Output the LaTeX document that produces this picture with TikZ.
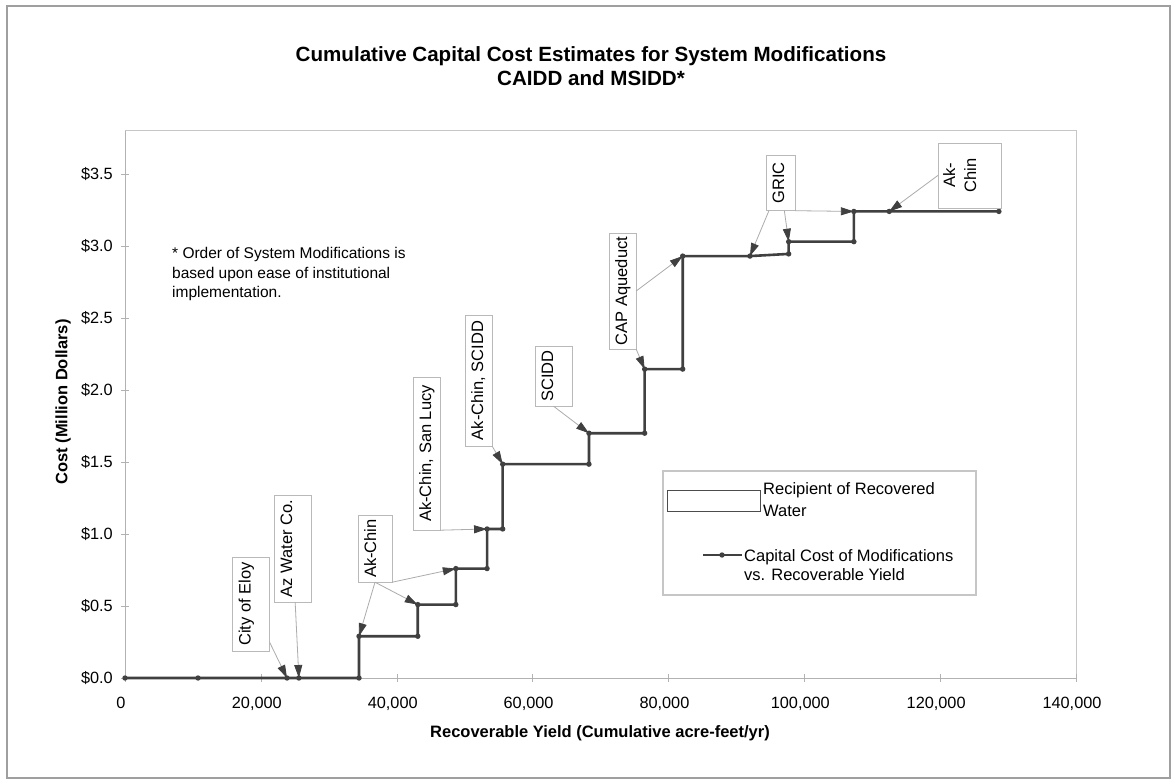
\documentclass[tikz,border=0pt]{standalone}
\usepackage{fontspec}
\setmainfont{Liberation Sans}
\usetikzlibrary{arrows.meta, positioning}
\tikzset{
  callout/.style={
    draw=gray!55,
    fill=white,
    rectangle,
    rotate=90,
    inner sep=0pt,
    text height=18pt,
    align=center,
    font=\fontsize{16.5}{18}\selectfont,
  },
  pointer/.style={
    -{Triangle[length=13pt,width=8pt,color=black!75]},
    gray!65,
    line width=0.8pt
  },
  cost/.style={
    black!75,
    line width=2.6pt,
    line join=round
  },
  ticklabel/.style={
    font=\fontsize{16.3}{18}\selectfont,
    inner sep=0pt
  },
  axistitle/.style={
    font=\fontsize{16.5}{19}\selectfont\bfseries,
    inner sep=0pt
  },
  legendtext/.style={
    font=\fontsize{16.5}{22}\selectfont,
    align=left,
    inner sep=0pt
  }
}

\begin{document}
\begin{tikzpicture}[x=1pt, y=-1pt]
  \useasboundingbox (0,0) rectangle (1172,781);
  \fill[white] (0,0) rectangle (1172,781);
  % Frame
  \draw[gray!75, line width=1.5pt] (7,6) rectangle (1170,778);

  % Title
  \node[font=\fontsize{20.6}{24.5}\selectfont\bfseries, align=center] (title) at (591,66)
    {Cumulative Capital Cost Estimates for System Modifications\\CAIDD and MSIDD*};

  % Plot area
  \draw[gray!45, line width=1pt] (125,131) -- (1076,131) -- (1076,678);
  \draw[gray!60, line width=1pt] (125,131) -- (125,678) -- (1076,678);

  % Ticks
  \foreach \lab [count=\k from 0] in {0.0,0.5,1.0,1.5,2.0,2.5,3.0,3.5} {
    \draw[gray!60] (121,{678-72*\k}) -- (129,{678-72*\k});
    \node[ticklabel, anchor=base east] (ylab\k) at (113,{683.7-72*\k}) {\$\lab};
  }
  \foreach \lab [count=\k from 0] in {0,{20,000},{40,000},{60,000},{80,000},{100,000},{120,000},{140,000}} {
    \draw[gray!60] ({125+135.857*\k},674) -- ({125+135.857*\k},682);
    \node[ticklabel, anchor=base] (xlab\k) at ({121+135.857*\k},708) {\lab};
  }

  % Axis titles
  \node[axistitle, rotate=90] (ytitle) at (63,402) {Cost (Million Dollars)};
  \node[axistitle] (xtitle) at (600,733) {Recoverable Yield (Cumulative acre-feet/yr)};

  % Note
  \node[font=\fontsize{15.5}{19.5}\selectfont, align=left, anchor=north west, inner sep=0pt] (note) at (172,247.5)
    {* Order of System Modifications is\\based upon ease of institutional\\implementation.};

  % Data points
  \begin{scope}[shift={(125,678)}, x=6.7929pt, y=144pt]
    \foreach \dx/\dy [count=\i] in {0/0, 10.75/0, 23.85/0, 25.6/0, 34.45/0, 34.45/0.29, 43.1/0.29,
        43.1/0.51, 48.7/0.51, 48.7/0.76, 53.3/0.76, 53.3/1.035, 55.6/1.035, 55.6/1.485, 68.3/1.485,
        68.3/1.70, 76.5/1.70, 76.5/2.145, 82.1/2.145, 82.1/2.93, 92.0/2.93, 97.7/2.945, 97.7/3.03,
        107.3/3.03, 107.3/3.24, 112.5/3.24, 128.65/3.24}
      \coordinate (d\i) at (\dx,\dy);
  \end{scope}
  \draw[cost] (d1) \foreach \i in {2,...,27} { -- (d\i) };
  \foreach \i in {1,...,27} \fill[black!75] (d\i) circle (2.7pt);

  % Callouts
  \node[callout, minimum width=94pt, text depth=19pt] (eloy) at (251,604) {City of Eloy};
  \node[callout, minimum width=107pt, text depth=19pt] (azwater) at (292.5,548.5) {Az Water Co.};
  \node[callout, minimum width=67pt, text depth=16pt] (akchinA) at (375,548.5) {Ak-Chin};
  \node[callout, minimum width=153pt, text depth=9pt] (sanlucy) at (426.5,453.5) {Ak-Chin, San Lucy};
  \node[callout, minimum width=131pt, text depth=9pt] (akscidd) at (478.5,380.5) {Ak-Chin, SCIDD};
  \node[callout, minimum width=60pt, text depth=19pt] (scidd) at (553.5,376) {SCIDD};
  \node[callout, minimum width=116pt, text depth=9pt] (cap) at (622.5,291) {CAP Aqueduct};
  \node[callout, minimum width=55pt, text depth=11pt] (gric) at (780.5,183) {GRIC};
  \node[callout, minimum width=65pt, font=\fontsize{16.5}{21}\selectfont,
    text height=38pt, text depth=25pt] (akchinB) at (969.5,175.5) {Ak-\\Chin};

  \draw[pointer] (eloy) -- (d3);
  \draw[pointer] (azwater) -- (d4);
  \draw[pointer] (akchinA.west) -- (d6);
  \draw[pointer] (akchinA.west) -- (d8);
  \draw[pointer] (akchinA.south west) -- (d10);
  \draw[pointer] (sanlucy.south west) -- (d12);
  \draw[pointer] (akscidd.south west) -- (d14);
  \draw[pointer] (scidd.west) -- (d16);
  \draw[pointer] (cap.south west) -- (d18);
  \draw[pointer] (cap.south) -- (d20);
  \draw[pointer] (gric) -- (d21);
  \draw[pointer] (gric) -- (d23);
  \draw[pointer] (gric.south west) -- (d25);
  \draw[pointer] (akchinB.north) -- (d26);

  % Legend
  \node[draw=gray!45, line width=1.2pt, minimum width=313pt, minimum height=124pt, inner sep=0pt] (legend) at (819.5,533) {};
  \node[draw=black!70, minimum width=93pt, minimum height=21pt, inner sep=0pt] (recip) at (713.5,500.5) {};
  \node[legendtext, anchor=north west] (reciptext) at (763,482) {Recipient of Recovered\\Water};
  \coordinate (costA) at (703,555);
  \coordinate (costB) at (742,555);
  \draw[black!75, line width=2pt] (costA) -- (costB);
  \fill[black!75] (722,555) circle (2.7pt);
  \node[legendtext, font=\fontsize{16.5}{19}\selectfont, anchor=north west] (costtext) at (744,549)
    {Capital Cost of Modifications\\vs. Recoverable Yield};
\end{tikzpicture}
\end{document}
